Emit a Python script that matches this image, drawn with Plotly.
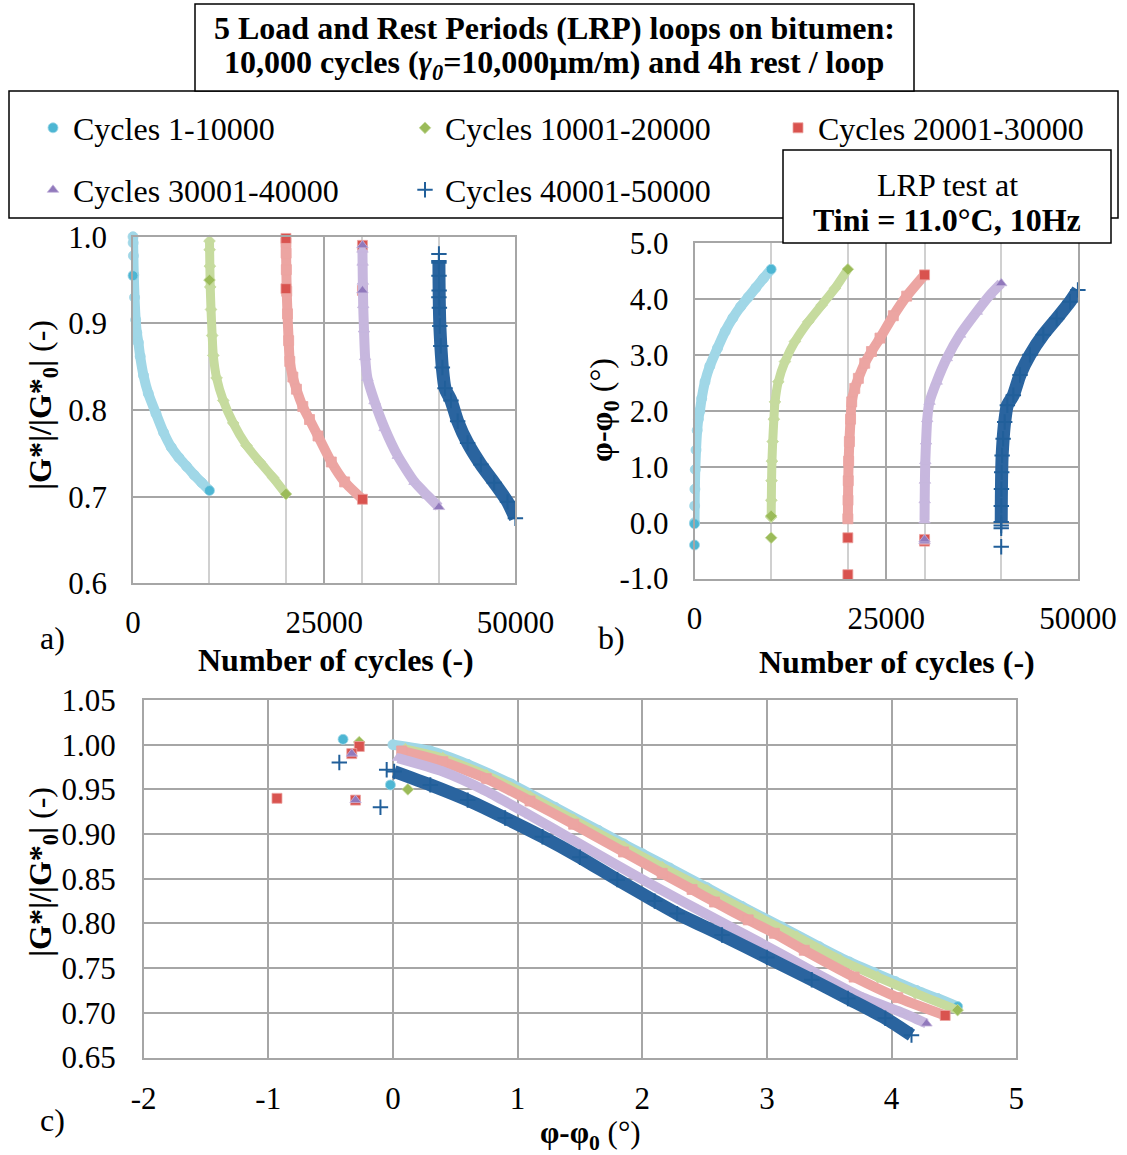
import plotly.graph_objects as go

W, H = 1127, 1155

# ---------------- data (five LRP loops) ----------------
# main part of each loop: cycle number, normalised modulus |G*|/|G*0|, phase shift phi-phi0 (deg)
loop1_cycles = [1, 20, 50, 100, 200, 350, 500, 700, 935, 1370, 2000, 3000, 4000, 5000, 6000, 7000, 8000, 9000, 10000]
loop1_modulus = [1.000, 0.993, 0.978, 0.956, 0.930, 0.904, 0.889, 0.878, 0.862, 0.840, 0.819, 0.796, 0.774, 0.757, 0.745, 0.735, 0.725, 0.716, 0.707]
loop1_phase = [0.00, 0.30, 0.60, 0.95, 1.30, 1.65, 1.85, 2.00, 2.22, 2.52, 2.80, 3.12, 3.42, 3.66, 3.86, 4.03, 4.20, 4.37, 4.53]

loop2_cycles = [10001, 10020, 10050, 10100, 10200, 10350, 10500, 10930, 11800, 13100, 14840, 16580, 18320, 20000]
loop2_modulus = [0.995, 0.985, 0.966, 0.942, 0.916, 0.886, 0.863, 0.837, 0.811, 0.785, 0.759, 0.740, 0.722, 0.703]
loop2_phase = [0.10, 0.40, 0.75, 1.10, 1.45, 1.85, 2.16, 2.52, 2.88, 3.24, 3.59, 3.89, 4.19, 4.53]

loop3_cycles = [20001, 20020, 20050, 20100, 20200, 20350, 20500, 20900, 21370, 22200, 23080, 24190, 25930, 27670, 30000]
loop3_modulus = [0.993, 0.981, 0.962, 0.937, 0.911, 0.880, 0.856, 0.838, 0.824, 0.804, 0.789, 0.770, 0.740, 0.717, 0.697]
loop3_phase = [0.07, 0.40, 0.75, 1.10, 1.45, 1.85, 2.16, 2.40, 2.58, 2.85, 3.06, 3.30, 3.70, 4.05, 4.43]

loop4_cycles = [30001, 30020, 30050, 30100, 30200, 30350, 30650, 31580, 32900, 34620, 36810, 38530, 40000]
loop4_modulus = [0.985, 0.970, 0.948, 0.921, 0.893, 0.861, 0.837, 0.810, 0.779, 0.747, 0.717, 0.701, 0.688]
loop4_phase = [0.04, 0.40, 0.75, 1.10, 1.45, 1.85, 2.16, 2.52, 2.94, 3.36, 3.77, 4.07, 4.28]

loop5_cycles = [40001, 40010, 40030, 40060, 40120, 40250, 40450, 40800, 41580, 42450, 43750, 45490, 47230, 48970, 50000]
loop5_modulus = [0.970, 0.955, 0.938, 0.918, 0.897, 0.874, 0.849, 0.825, 0.811, 0.787, 0.762, 0.737, 0.716, 0.694, 0.675]
loop5_phase = [0.01, 0.30, 0.60, 0.90, 1.20, 1.50, 1.80, 2.10, 2.28, 2.64, 3.00, 3.36, 3.65, 3.95, 4.16]

# scattered first readings of each loop
loop1_first_cycles = [1, 1]
loop1_first_modulus = [1.006, 0.955]
loop1_first_phase = [-0.40, -0.02]

loop2_first_cycles = [10000, 10001]
loop2_first_modulus = [1.003, 0.950]
loop2_first_phase = [-0.27, 0.12]

loop3_first_cycles = [20000, 20000, 30000, 30000]
loop3_first_modulus = [0.998, 0.940, 0.990, 0.938]
loop3_first_phase = [-0.27, -0.93, -0.33, -0.30]

loop4_first_cycles = [30000, 30000]
loop4_first_modulus = [0.990, 0.938]
loop4_first_phase = [-0.33, -0.30]

loop5_first_cycles = [40000, 40000, 40000]
loop5_first_modulus = [0.980, 0.972, 0.930]
loop5_first_phase = [-0.43, -0.05, -0.10]

series_names = ["Cycles 1-10000", "Cycles 10001-20000", "Cycles 20001-30000",
                "Cycles 30001-40000", "Cycles 40001-50000"]

# tick labels
cycle_ticks = [0, 25000, 50000]
cycle_ticktext = ["0", "25000", "50000"]
modulus_ticks_a = [0.6, 0.7, 0.8, 0.9, 1.0]
modulus_ticktext_a = ["0.6", "0.7", "0.8", "0.9", "1.0"]
phase_ticks_b = [-1, 0, 1, 2, 3, 4, 5]
phase_ticktext_b = ["-1.0", "0.0", "1.0", "2.0", "3.0", "4.0", "5.0"]
phase_ticks_c = [-2, -1, 0, 1, 2, 3, 4, 5]
phase_ticktext_c = ["-2", "-1", "0", "1", "2", "3", "4", "5"]
modulus_ticks_c = [0.65, 0.70, 0.75, 0.80, 0.85, 0.90, 0.95, 1.00, 1.05]
modulus_ticktext_c = ["0.65", "0.70", "0.75", "0.80", "0.85", "0.90", "0.95", "1.00", "1.05"]

# ---------------- styling ----------------
FONT = "Liberation Serif"
full_colors = ["#4DB6D3", "#9BBB59", "#D9534F", "#9179BC", "#215F9A"]
band_colors = ["#A0D7E7", "#C6DB9E", "#ECA5A2", "#C7B7DE", "#2A649F"]
symbols = ["circle", "diamond", "square", "triangle-up", "cross-thin"]
marker_sizes = [10, 9, 10, 10, 11]
band_widths = [10, 9, 10, 10, 13]

loops = [
    (loop1_cycles, loop1_modulus, loop1_phase, loop1_first_cycles, loop1_first_modulus, loop1_first_phase),
    (loop2_cycles, loop2_modulus, loop2_phase, loop2_first_cycles, loop2_first_modulus, loop2_first_phase),
    (loop3_cycles, loop3_modulus, loop3_phase, loop3_first_cycles, loop3_first_modulus, loop3_first_phase),
    (loop4_cycles, loop4_modulus, loop4_phase, loop4_first_cycles, loop4_first_modulus, loop4_first_phase),
    (loop5_cycles, loop5_modulus, loop5_phase, loop5_first_cycles, loop5_first_modulus, loop5_first_phase),
]


def px(x):
    return x / W


def py(y):
    return 1 - y / H


fig = go.Figure()

panels = [("x", "y"), ("x2", "y2"), ("x3", "y3")]

for k, (cyc, mod, pha, fc, fm, fp) in enumerate(loops):
    n = len(cyc)
    m_colors = [band_colors[k]] * (n - 1) + [full_colors[k]]
    thin = symbols[k] == "cross-thin"
    band_marker = dict(
        symbol=symbols[k], size=marker_sizes[k], color=m_colors,
        line=dict(width=2 if thin else 0.8, color=full_colors[k] if thin else band_colors[k]),
    )
    first_marker = dict(
        symbol=symbols[k], size=marker_sizes[k], color=full_colors[k],
        line=dict(width=2 if thin else 0.8, color=full_colors[k] if thin else band_colors[k]),
    )
    views = [(cyc, mod, fc, fm), (cyc, pha, fc, fp), (pha, mod, fp, fm)]
    for p, (xa, ya) in enumerate(panels):
        bx, by, ox, oy = views[p]
        fig.add_trace(go.Scatter(
            x=bx, y=by, mode="lines+markers", xaxis=xa, yaxis=ya,
            line=dict(color=band_colors[k], width=band_widths[k], shape="spline", smoothing=0.6),
            marker=band_marker, showlegend=False, hoverinfo="skip", cliponaxis=False,
        ))
        fig.add_trace(go.Scatter(
            x=ox, y=oy, mode="markers", xaxis=xa, yaxis=ya,
            marker=first_marker, name=series_names[k], cliponaxis=False,
            showlegend=(p == 0), legend="legend" if k == 0 else f"legend{k + 1}",
        ))

GRID = "#A6A6A6"
MINOR = "#D0D0D0"
tickfont = dict(family=FONT, size=31, color="black")


def axis(domain, rng, tickvals, ticktext, anchor, minor=None, standoff=22):
    d = dict(domain=domain, range=rng, tickmode="array", tickvals=tickvals, ticktext=ticktext,
             showgrid=True, gridcolor=GRID, gridwidth=1.5, zeroline=False, showline=True,
             mirror=True, linecolor=GRID, linewidth=1.5, ticks="", tickfont=tickfont,
             ticklabelstandoff=standoff, fixedrange=True, automargin=False, anchor=anchor)
    if minor:
        d["minor"] = dict(dtick=minor, tick0=0, showgrid=True, gridcolor=MINOR, gridwidth=1.5, ticks="")
    return d


fig.update_layout(
    width=W, height=H, margin=dict(l=0, r=0, t=0, b=0, autoexpand=False),
    paper_bgcolor="white", plot_bgcolor="white",
    font=dict(family=FONT, size=32, color="black"),
    xaxis=axis([px(133), px(515.4)], [0, 50000], cycle_ticks, cycle_ticktext, "y", minor=10000, standoff=11),
    yaxis=axis([py(583.3), py(236.7)], [0.6, 1.0], modulus_ticks_a, modulus_ticktext_a, "x", standoff=18),
    xaxis2=axis([px(694.5), px(1077.9)], [0, 50000], cycle_ticks, cycle_ticktext, "y2", minor=10000, standoff=11),
    yaxis2=axis([py(578.6), py(243.0)], [-1.0, 5.0], phase_ticks_b, phase_ticktext_b, "x2", standoff=18),
    xaxis3=axis([px(143.6), px(1016.2)], [-2, 5], phase_ticks_c, phase_ticktext_c, "y3", standoff=13),
    yaxis3=axis([py(1057.5), py(700.0)], [0.65, 1.05], modulus_ticks_c, modulus_ticktext_c, "x3", standoff=20),
)

# one legend per series, laid out in a 3 + 2 grid
legend_pos = [(33, 128), (405, 128), (778, 128), (33, 190), (405, 190)]
for k, (lx, ly) in enumerate(legend_pos):
    key = "legend" if k == 0 else f"legend{k + 1}"
    fig.layout[key] = dict(
        x=px(lx), y=py(ly), xanchor="left", yanchor="middle",
        bgcolor="rgba(0,0,0,0)", borderwidth=0, itemwidth=30,
        font=dict(family=FONT, size=32, color="black"),
    )

# framing boxes: legend frame, title frame, test-condition frame
shapes = [
    dict(type="rect", xref="paper", yref="paper", x0=px(9), x1=px(1118), y0=py(218), y1=py(91),
         line=dict(color="black", width=1.5), fillcolor="white", layer="below"),
    dict(type="rect", xref="paper", yref="paper", x0=px(195), x1=px(914), y0=py(91), y1=py(4),
         line=dict(color="black", width=1.5), fillcolor="white", layer="below"),
    dict(type="rect", xref="paper", yref="paper", x0=px(783), x1=px(1111), y0=py(243), y1=py(150),
         line=dict(color="black", width=1.5), fillcolor="white", layer="above"),
]
fig.update_layout(shapes=shapes)


def note(text, x, y, size=32, angle=0, xanchor="center"):
    fig.add_annotation(text=text, x=px(x), y=py(y), xref="paper", yref="paper",
                       showarrow=False, textangle=angle, xanchor=xanchor, yanchor="middle",
                       font=dict(family=FONT, size=size, color="black"))


note("<b>5 Load and Rest Periods (LRP) loops on bitumen:</b>", 554, 28)
note("<b>10,000 cycles (<i>γ<sub>0</sub></i>=10,000μm/m) and 4h rest / loop</b>", 554, 65)
note("LRP test at", 947, 185)
note("<b>Tini = 11.0°C, 10Hz</b>", 947, 220)

note("<b>Number of cycles (-)</b>", 336, 660)
note("<b>Number of cycles (-)</b>", 897, 662)
note("<b>|G*|/|G*<sub>0</sub>|</b> (-)", 42, 405, angle=-90)
note("<b>φ-φ<sub>0</sub></b> (°)", 604, 410, angle=-90)
note("<b>|G*|/|G*<sub>0</sub>|</b> (-)", 42, 872, angle=-90)
note("<b>φ-φ<sub>0</sub></b> (°)", 590, 1135, size=31)

note("a)", 52, 638)
note("b)", 612, 638)
note("c)", 52, 1120)

fig.write_html("out.html")
